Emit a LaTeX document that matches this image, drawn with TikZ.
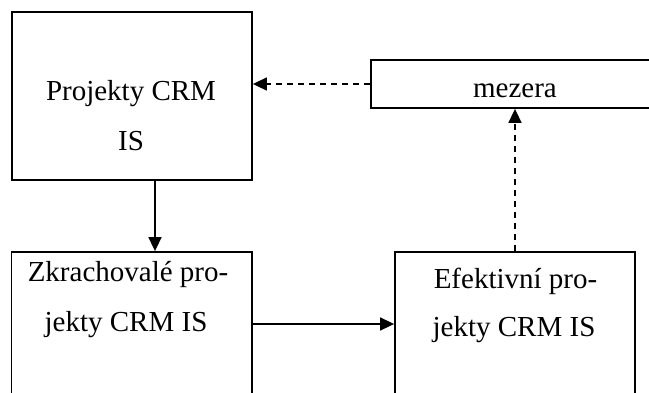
\documentclass[tikz,border=0pt]{standalone}
\usepackage{fontspec}
\setmainfont{Liberation Serif}
\usetikzlibrary{arrows.meta}
\begin{document}
\begin{tikzpicture}[x=1pt,y=-1pt,
  box/.style={draw=black, line width=1.8pt, rectangle, inner sep=0pt},
  lbl/.style={anchor=base, inner sep=0pt, font=\fontsize{29}{29}\selectfont},
  flow/.style={line width=1.6pt, -{Triangle[length=14pt,width=13pt]}},
  gapflow/.style={flow, dash pattern=on 6.5pt off 4.5pt}]
\useasboundingbox (0,0) rectangle (649,392);
\clip (0,0) rectangle (649,392);

% boxes (the lower ones and the right one run past the page edge)
\node[box, minimum width=240pt, minimum height=168pt] (proj) at (132,96) {};
\node[box, minimum width=309pt, minimum height=48pt] (mez) at (525.5,84) {};
\node[box, minimum width=240.5pt, minimum height=168pt] (zk) at (131.75,336) {};
\node[box, minimum width=240pt, minimum height=168pt] (ef) at (515,336) {};

% texts
\node[lbl] (projA) at (131,100) {Projekty CRM};
\node[lbl] (projB) at (131,150) {IS};
\node[lbl] (mezT) at (515,97.3) {mezera};
\node[lbl] (zkA) at (128,281.7) {Zkrachovalé pro-};
\node[lbl] (zkB) at (126,331.7) {jekty CRM IS};
\node[lbl] (efA) at (515.5,288.3) {Efektivní pro-};
\node[lbl] (efB) at (514,336.7) {jekty CRM IS};

% connectors
\coordinate (down) at ([xshift=23pt]proj.south);
\draw[flow] (down) -- (down |- zk.north);
\coordinate (across) at ([yshift=12pt]zk.east);
\draw[flow] (across) -- (across -| ef.west);
\draw[gapflow] (ef.north) -- (ef.north |- mez.south);
\draw[gapflow] (mez.west) -- (mez.west -| proj.east);
\end{tikzpicture}
\end{document}
